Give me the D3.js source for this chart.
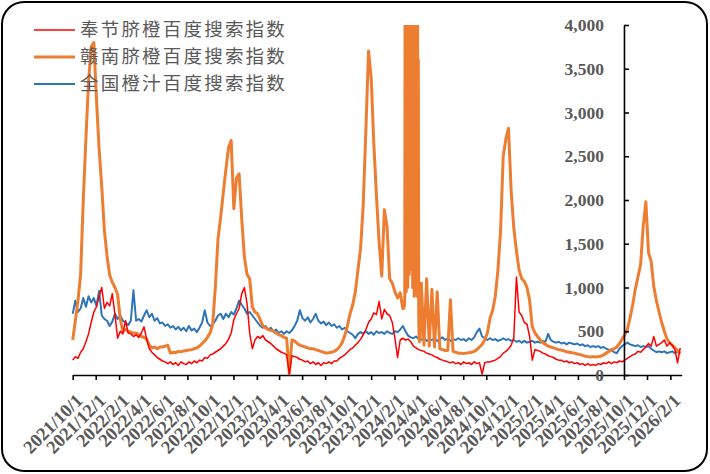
<!DOCTYPE html>
<html>
<head>
<meta charset="utf-8">
<script src="https://cdn.jsdelivr.net/npm/d3@7"></script>
<style>
  body { margin: 0; background: #fff; }
  svg { display: block; }
</style>
</head>
<body>
<svg class="chart" width="710" height="474"></svg>
<script>
// series names (legend order)
let seriesNames = ["奉节脐橙百度搜索指数", "赣南脐橙百度搜索指数", "全国橙汁百度搜索指数"];

// x-axis tick labels
let xLabels = ["2021/10/1","2021/12/1","2022/2/1","2022/4/1","2022/6/1","2022/8/1","2022/10/1",
  "2022/12/1","2023/2/1","2023/4/1","2023/6/1","2023/8/1","2023/10/1","2023/12/1","2024/2/1",
  "2024/4/1","2024/6/1","2024/8/1","2024/10/1","2024/12/1","2025/2/1","2025/4/1","2025/6/1",
  "2025/8/1","2025/10/1","2025/12/1","2026/2/1"];
let yTicks = [0, 500, 1000, 1500, 2000, 2500, 3000, 3500, 4000];

// weekly readings, first week = 2021-10-01
let firstWeek = "2021-10-01";

let fengjie = [170,210,190,260,300,380,470,600,720,780,
  900,1000,760,830,790,930,690,420,500,470,
  620,480,470,440,460,430,480,550,410,300,
  260,230,200,180,160,150,130,150,120,140,
  110,150,130,120,150,130,160,140,170,160,
  200,190,230,240,260,280,300,330,360,410,
  480,630,700,760,930,1000,820,480,300,400,
  440,420,450,400,380,360,330,300,280,260,
  250,230,10,220,210,200,180,170,150,160,
  130,150,120,140,110,140,130,150,130,160,
  160,190,210,230,260,290,310,340,370,410,
  460,520,600,640,710,690,840,640,750,700,
  680,600,420,200,400,420,400,410,380,330,
  310,290,280,270,250,240,230,210,200,180,
  170,160,150,140,150,130,140,120,150,130,
  140,120,150,130,140,10,140,150,150,160,
  170,190,210,250,270,300,340,420,1120,720,
  680,600,580,440,170,290,280,270,250,240,
  220,210,200,180,170,170,150,160,140,150,
  130,140,120,130,110,130,110,120,110,130,
  120,140,130,150,130,150,140,160,150,170,
  190,210,230,240,270,260,290,320,360,330,
  440,330,350,370,400,330,370,340,290,140,
  310];

let gannan = [400,620,850,1150,2000,2700,3350,3750,3800,3150,
  2580,2150,1650,1360,1140,1060,1000,920,640,500,
  520,500,490,480,480,460,440,430,410,340,
  310,320,300,320,320,330,340,250,260,255,
  270,265,275,280,285,290,300,310,330,360,
  390,430,480,580,1000,1550,1800,2080,2350,2600,
  2680,1900,2250,2300,1780,1350,1150,1100,780,720,
  700,630,560,540,520,510,500,480,460,450,
  430,420,20,400,390,360,340,330,320,310,
  300,300,290,280,270,260,250,255,260,270,
  290,320,370,450,560,700,800,950,1200,1450,
  1950,2800,3700,3400,2650,2050,1520,1130,1890,1700,
  1100,1050,950,880,940,760,null,null,null,null,
  null,null,1050,340,1100,330,980,320,950,300,
  290,280,280,860,270,260,250,250,245,250,
  255,260,270,290,320,350,400,480,650,740,
  900,1200,1650,2500,2700,2820,2100,1680,1420,1200,
  1100,1070,1000,850,550,480,440,400,370,350,
  330,320,310,300,290,285,275,265,260,255,
  250,240,235,225,215,210,205,210,205,210,
  215,230,250,270,290,300,320,360,410,460,
  520,650,800,980,1120,1260,1700,1980,1400,1300,
  1010,850,720,600,500,410,370,340,310,280,
  240];

// daily readings for the March 2024 burst, first day = 2024-02-25
let gannanBurstStart = "2024-02-25";
let gannanBurst = [760,820,780,900,4800,1100,4600,950,5000,1200,
  4700,1000,4900,1300,4500,1150,4800,5200,4900,5000,
  1400,4600,1200,4800,1000,4500,1300,4700,900,4900,
  1100,4400,1000,4800,1200,4600,900,4500,1000,3600,
  700,420,380,450,400];

let juice = [700,850,720,760,880,780,900,830,880,790,
  960,680,640,620,560,610,700,640,680,620,
  600,570,620,970,620,640,610,680,740,660,
  700,620,650,590,600,560,580,540,560,520,
  550,510,540,500,560,510,530,490,540,600,
  740,600,560,580,620,680,700,640,700,660,
  720,690,760,850,800,760,700,720,680,640,
  600,560,540,560,520,540,500,520,480,500,
  470,500,480,510,560,620,740,650,620,660,
  600,640,700,620,590,610,570,600,560,580,
  540,560,520,540,500,480,460,420,470,490,
  470,500,470,490,460,500,480,490,470,500,
  480,470,500,490,520,560,500,450,430,420,
  440,410,400,420,390,410,400,420,390,410,
  430,400,420,390,410,400,420,400,410,390,
  420,400,430,490,530,440,420,400,420,400,
  410,390,400,420,400,410,390,400,380,390,
  370,390,370,380,390,370,380,370,390,380,
  470,400,380,370,380,360,370,350,370,360,
  350,360,340,350,330,340,320,330,320,330,
  310,320,300,290,280,260,250,300,330,350,
  370,350,340,330,340,320,330,320,330,300,
  280,260,270,260,270,250,260,270,250,270,
  250];

let colors = ["#ff0000", "#ed7d31", "#2e75b6"];
let widths = [1.5, 3, 2];

let drawChart = function() {
  let svg = d3.select("svg.chart");
  let parseDay = d3.utcParse("%Y-%m-%d");
  let parseLabel = d3.utcParse("%Y/%m/%d");
  let start = parseDay(firstWeek);

  let weekly = values => values.map((v, i) => ({date: d3.utcDay.offset(start, 7 * i), v: v}));
  let redData = weekly(fengjie);
  let blueData = weekly(juice);
  let burstStart = parseDay(gannanBurstStart);
  let orangeData = weekly(gannan).filter(d => d.v != null)
    .concat(gannanBurst.map((v, i) => ({date: d3.utcDay.offset(burstStart, i), v: v})))
    .sort((a, b) => a.date - b.date);

  // frame
  svg.append("rect")
    .attr("x", 2).attr("y", 2)
    .attr("width", 705).attr("height", 469)
    .attr("rx", 22).attr("ry", 22)
    .attr("fill", "#fff")
    .attr("stroke", "#000")
    .attr("stroke-width", 2);

  let plot = {left: 72.7, right: 681.7, top: 25, bottom: 375};

  let x = d3.scaleUtc()
    .domain([parseDay("2021-10-01"), parseDay("2026-03-03")])
    .range([plot.left, plot.right]);
  let y = d3.scaleLinear()
    .domain([0, 4000])
    .range([plot.bottom, plot.top]);

  svg.append("clipPath").attr("id", "plot-clip")
    .append("rect")
    .attr("x", plot.left - 2).attr("y", plot.top)
    .attr("width", plot.right - plot.left + 4)
    .attr("height", plot.bottom - plot.top + 6);

  // lines: blue first, red on top
  let line = d3.line()
    .x(d => x(d.date))
    .y(d => y(d.v));
  let lines = svg.append("g").attr("clip-path", "url(#plot-clip)");
  [[blueData, 2], [orangeData, 1], [redData, 0]].forEach(([data, k]) => {
    lines.append("path")
      .datum(data)
      .attr("d", line)
      .attr("fill", "none")
      .attr("stroke", colors[k])
      .attr("stroke-width", widths[k])
      .attr("stroke-linejoin", "round");
  });

  // x axis
  let xTickDates = xLabels.map(parseLabel);
  let xAxis = d3.axisBottom(x)
    .tickValues(xTickDates)
    .tickSize(5)
    .tickSizeOuter(0)
    .tickFormat((d, i) => xLabels[i]);
  let xGroup = svg.append("g").attr("transform", translate(0, plot.bottom));
  xGroup.call(xAxis);

  // y axis crosses at 2025/10/1
  let yAxis = d3.axisRight(y)
    .tickValues(yTicks)
    .tickSize(5)
    .tickSizeOuter(0)
    .tickFormat(d3.format(","));
  let yGroup = svg.append("g").attr("transform", translate(x(parseDay("2025-10-01")), 0));
  yGroup.call(yAxis);

  svg.selectAll(".domain, .tick line")
    .attr("stroke", "#000")
    .attr("stroke-width", 1.6);
  svg.selectAll(".tick text")
    .attr("fill", "#595959")
    .style("font-family", "'Liberation Serif', 'Times New Roman', serif")
    .style("font-weight", "bold")
    .style("font-size", "17.5px");

  xGroup.selectAll("text")
    .attr("x", 0).attr("y", 0).attr("dy", "0.35em")
    .attr("transform", "translate(6,22) rotate(-45)")
    .style("font-size", "18.5px")
    .style("text-anchor", "end");
  yGroup.selectAll("text")
    .attr("x", -20)
    .style("text-anchor", "end");

  // legend
  let legend = svg.append("g").attr("transform", translate(34, 30));
  seriesNames.forEach((name, k) => {
    let row = legend.append("g").attr("transform", translate(0, k * 27));
    row.append("line")
      .attr("x1", 0).attr("x2", 41)
      .attr("stroke", colors[k])
      .attr("stroke-width", widths[k]);
    row.append("text")
      .attr("x", 46)
      .attr("dy", "0.35em")
      .attr("fill", "#595959")
      .style("font-family", "'Noto Sans CJK SC', sans-serif")
      .style("font-size", "18.5px")
      .style("letter-spacing", "2.2px")
      .text(name);
  });
};

function translate(x, y) {
  return 'translate(' + x + ',' + y + ')';
}

drawChart();
</script>
</body>
</html>
